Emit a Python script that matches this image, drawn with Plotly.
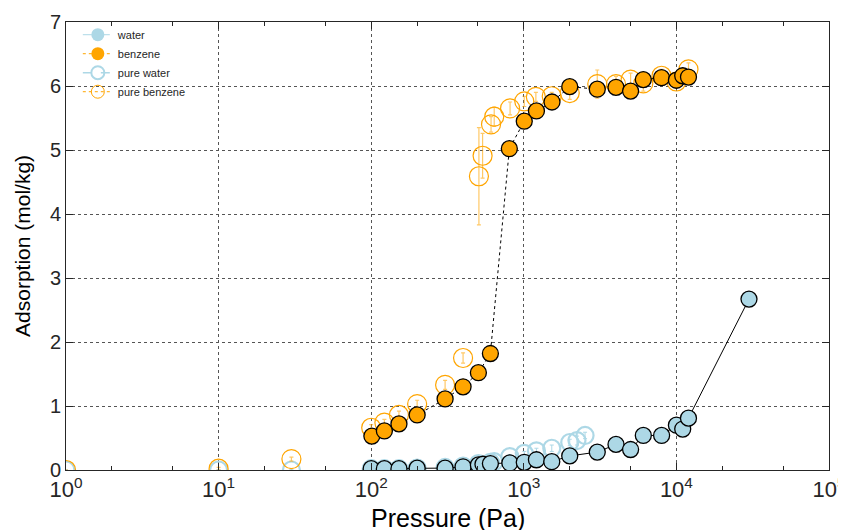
import plotly.graph_objects as go

# ---------------- data ----------------
water_p = [100, 122, 152, 200, 305, 400, 504, 540, 604, 810, 1007, 1210, 1525, 2000,
           3030, 4020, 5010, 6070, 8000, 10000, 11000, 12000, 29900]
water_q = [0.02, 0.02, 0.02, 0.03, 0.03, 0.05, 0.08, 0.09, 0.10, 0.11, 0.12, 0.16, 0.13, 0.22,
           0.28, 0.40, 0.32, 0.54, 0.54, 0.70, 0.64, 0.81, 2.67]

benz_p = [101, 122, 152, 200, 305, 400, 504, 604, 804, 1007, 1210, 1530, 2000,
          3030, 4020, 5010, 6070, 7990, 10000, 11000, 12000]
benz_q = [0.53, 0.61, 0.72, 0.86, 1.11, 1.30, 1.52, 1.82, 5.02, 5.45, 5.61, 5.75, 5.99,
          5.95, 5.98, 5.92, 6.10, 6.13, 6.09, 6.16, 6.14]

pw_p = [1, 10, 30, 100, 122, 152, 200, 305, 400, 504, 604, 640, 810, 1007, 1210, 1525,
        2000, 2230, 2520]
pw_q = [0.0, 0.0, 0.0, 0.02, 0.02, 0.02, 0.03, 0.04, 0.06, 0.10, 0.12, 0.13, 0.21, 0.26,
        0.30, 0.34, 0.43, 0.46, 0.54]
pw_err = [0.0, 0.0, 0.01, 0.01, 0.01, 0.01, 0.01, 0.01, 0.02, 0.02, 0.02, 0.02, 0.03, 0.03,
          0.04, 0.05, 0.05, 0.07, 0.05]

pb_p = [1, 10, 30, 100, 122, 152, 200, 305, 400, 508, 537, 610, 640, 813, 1007, 1200,
        1524, 2000, 3030, 4020, 5010, 6070, 7990, 10000, 12000]
pb_q = [0.0, 0.02, 0.17, 0.66, 0.74, 0.86, 1.03, 1.33, 1.75, 4.59, 4.91, 5.40, 5.52, 5.65,
        5.76, 5.83, 5.84, 5.89, 6.03, 6.03, 6.10, 6.04, 6.16, 6.07, 6.26]
pb_err = [0.0, 0.02, 0.03, 0.05, 0.05, 0.06, 0.06, 0.07, 0.08, 0.76, 0.35, 0.12, 0.15, 0.10,
          0.08, 0.07, 0.06, 0.10, 0.22, 0.12, 0.10, 0.12, 0.10, 0.10, 0.10]

x_tickvals = [1, 10, 100, 1000, 10000, 100000]
x_ticktext = ["10<sup>0</sup>", "10<sup>1</sup>", "10<sup>2</sup>",
              "10<sup>3</sup>", "10<sup>4</sup>", "10<sup>5</sup>"]
y_tickvals = [0, 1, 2, 3, 4, 5, 6, 7]

x_title = "Pressure (Pa)"
y_title = "Adsorption (mol/kg)"

LB = "#add8e6"
OR = "#ffa500"

fig = go.Figure()

# pure series (open circles with error bars)
fig.add_trace(go.Scatter(
    x=pw_p, y=pw_q, mode="markers", showlegend=False,
    error_y=dict(type="data", array=pw_err, color=LB, thickness=1, width=2),
    marker=dict(symbol="circle-open", size=17, color=LB, line=dict(width=2.2, color=LB)),
))
fig.add_trace(go.Scatter(
    x=pb_p, y=pb_q, mode="markers", showlegend=False,
    error_y=dict(type="data", array=pb_err, color="rgba(255,165,0,0.6)", thickness=1.2, width=2),
    marker=dict(symbol="circle-open", size=19, color=OR, line=dict(width=1.2, color=OR)),
))
# mixture series
fig.add_trace(go.Scatter(
    x=water_p, y=water_q, mode="lines+markers", showlegend=False,
    line=dict(color="black", width=1),
    marker=dict(size=16, color=LB, line=dict(width=1.3, color="black")),
))
fig.add_trace(go.Scatter(
    x=benz_p, y=benz_q, mode="lines+markers", showlegend=False,
    line=dict(color="black", width=1, dash="dot"),
    marker=dict(size=16, color=OR, line=dict(width=1.3, color="black")),
))

# legend-only entries
fig.add_trace(go.Scatter(x=[None], y=[None], mode="lines+markers", name="water",
                         line=dict(color=LB, width=1, dash="dash"),
                         marker=dict(size=13, color=LB)))
fig.add_trace(go.Scatter(x=[None], y=[None], mode="lines+markers", name="benzene",
                         line=dict(color=OR, width=1, dash="dot"),
                         marker=dict(size=13, color=OR)))
fig.add_trace(go.Scatter(x=[None], y=[None], mode="lines+markers", name="pure water",
                         line=dict(color=LB, width=1.5, dash="dash"),
                         marker=dict(symbol="circle-open", size=13, color=LB,
                                     line=dict(width=2, color=LB))))
fig.add_trace(go.Scatter(x=[None], y=[None], mode="lines+markers", name="pure benzene",
                         line=dict(color=OR, width=1, dash="dot"),
                         marker=dict(symbol="circle-open", size=13, color=OR,
                                     line=dict(width=1, color=OR))))

# the page body adds an 8px offset, so the figure is sized 838x522
fig.update_layout(
    width=838, height=522,
    margin=dict(l=58, r=17, t=14, b=60),
    paper_bgcolor="white", plot_bgcolor="white",
    font=dict(family="Liberation Sans, Arial, sans-serif", color="#262626"),
    legend=dict(x=0.0155, y=1.004, xanchor="left", yanchor="top",
                bgcolor="rgba(255,255,255,0)", borderwidth=0,
                font=dict(size=11, color="#262626"), tracegroupgap=0,
                itemwidth=30),
    annotations=[
        dict(text=x_title, xref="paper", yref="paper", x=0.5, y=-0.108,
             xanchor="center", yanchor="middle", showarrow=False,
             font=dict(size=25, color="black")),
        dict(text=y_title, xref="paper", yref="paper", x=-0.0577, y=0.5,
             xanchor="center", yanchor="middle", showarrow=False, textangle=-90,
             font=dict(size=21, color="black")),
    ],
)
fig.update_xaxes(
    type="log", range=[0, 5], automargin=False,
    tickvals=x_tickvals, ticktext=x_ticktext,
    ticks="inside", ticklen=7, tickcolor="#262626",
    minor=dict(ticks="inside", ticklen=4, dtick="D2", tickcolor="#262626", showgrid=False),
    showgrid=True, gridcolor="#555555", griddash="dot", gridwidth=1,
    showline=True, linecolor="#262626", linewidth=1, mirror="ticks",
    tickfont=dict(size=22),
    zeroline=False,
)
fig.update_yaxes(
    range=[0, 7], tickvals=y_tickvals, automargin=False,
    ticks="inside", ticklen=7, tickcolor="#262626",
    showgrid=True, gridcolor="#555555", griddash="dot", gridwidth=1,
    showline=True, linecolor="#262626", linewidth=1, mirror="ticks",
    tickfont=dict(size=20),
    zeroline=False,
)

fig.write_html("out.html")
